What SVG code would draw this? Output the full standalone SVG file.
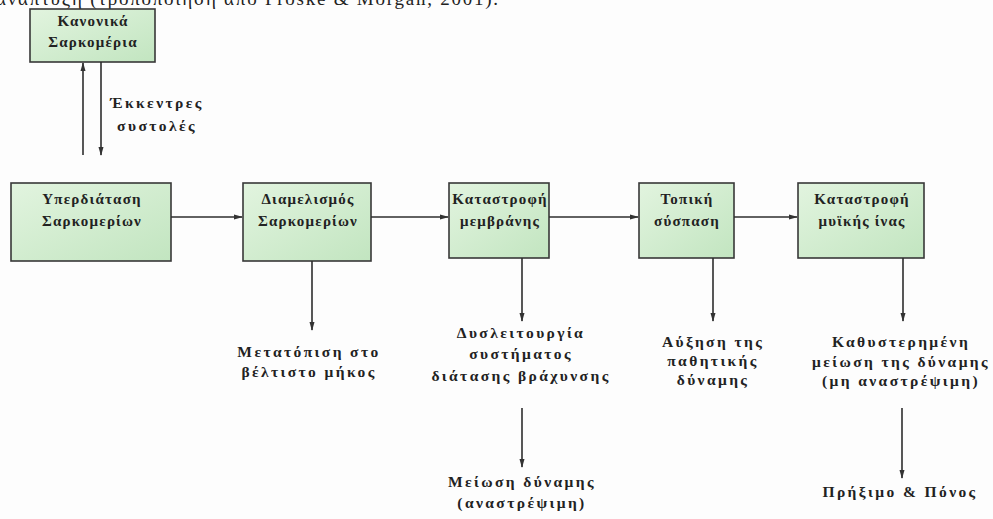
<svg xmlns="http://www.w3.org/2000/svg" width="993" height="519" viewBox="0 0 993 519">
<defs>
<linearGradient id="g" x1="0" y1="0" x2="1" y2="1">
<stop offset="0" stop-color="#e2f4df"/>
<stop offset="1" stop-color="#c2e5c0"/>
</linearGradient>
<marker id="ah" markerWidth="9" markerHeight="6" refX="8" refY="3" orient="auto" markerUnits="userSpaceOnUse">
<path d="M0,0.5 L9,3 L0,5.5 Z" fill="#333"/>
</marker>
<style>
.box{fill:url(#g);stroke:#383838;stroke-width:1.6}
.t{font-family:"Liberation Serif","Times New Roman",serif;font-weight:bold;font-size:15px;fill:#222;text-anchor:middle;letter-spacing:1.2px}
.o{font-size:15.5px;letter-spacing:2.4px}
.top{font-family:"Liberation Serif","Times New Roman",serif;font-size:19px;fill:#222}
.c{stroke:#2e2e2e;stroke-width:1.6;fill:none;marker-end:url(#ah)}
</style>
</defs>
<rect width="993" height="519" fill="#fdfdfd"/>
<text class="top" x="-4" y="5" textLength="502" lengthAdjust="spacing">ανάπτυξη (τροποποίηση από Proske &amp; Morgan, 2001).</text>

<g id="n-kanonika">
<rect class="box" x="30" y="9" width="125" height="53"/>
<text class="t" x="93" y="26">Κανονικά</text>
<text class="t" x="93" y="47">Σαρκομέρια</text>
</g>
<g id="n-yperdiatasi">
<rect class="box" x="11" y="183" width="160" height="78"/>
<text class="t" x="92" y="204">Υπερδιάταση</text>
<text class="t" x="92" y="226">Σαρκομερίων</text>
</g>
<g id="n-diamelismos">
<rect class="box" x="243" y="183" width="128" height="78"/>
<text class="t" x="308" y="204">Διαμελισμός</text>
<text class="t" x="308" y="226">Σαρκομερίων</text>
</g>
<g id="n-membrani">
<rect class="box" x="449" y="183" width="100" height="75"/>
<text class="t" x="500" y="204">Καταστροφή</text>
<text class="t" x="500" y="226">μεμβράνης</text>
</g>
<g id="n-topiki">
<rect class="box" x="639" y="183" width="95" height="75"/>
<text class="t" x="687" y="204">Τοπική</text>
<text class="t" x="687" y="226">σύσπαση</text>
</g>
<g id="n-myiki">
<rect class="box" x="798" y="183" width="126" height="75"/>
<text class="t" x="862" y="204">Καταστροφή</text>
<text class="t" x="862" y="226">μυϊκής ίνας</text>
</g>

<g id="n-ekkentres">
<text class="t o" x="157" y="108">Έκκεντρες</text>
<text class="t o" x="157" y="131">συστολές</text>
</g>
<g id="n-metatopisi">
<text class="t o" x="309" y="357">Μετατόπιση στο</text>
<text class="t o" x="309" y="377">βέλτιστο μήκος</text>
</g>
<g id="n-dyslitourgia">
<text class="t o" x="521" y="338">Δυσλειτουργία</text>
<text class="t o" x="521" y="359">συστήματος</text>
<text class="t o" x="521" y="381">διάτασης βράχυνσης</text>
</g>
<g id="n-meiosi">
<text class="t o" x="522" y="487">Μείωση δύναμης</text>
<text class="t o" x="522" y="508">(αναστρέψιμη)</text>
</g>
<g id="n-afxisi">
<text class="t o" x="713" y="347">Αύξηση της</text>
<text class="t o" x="713" y="366">παθητικής</text>
<text class="t o" x="713" y="385">δύναμης</text>
</g>
<g id="n-kathysterimeni">
<text class="t o" x="901" y="347">Καθυστερημένη</text>
<text class="t o" x="901" y="367">μείωση της δύναμης</text>
<text class="t o" x="901" y="386">(μη αναστρέψιμη)</text>
</g>
<g id="n-prixmo">
<text class="t o" x="900" y="497">Πρήξιμο &amp; Πόνος</text>
</g>

<g id="connectors">
<line class="c" x1="83" y1="155" x2="83" y2="63"/>
<line class="c" x1="101" y1="62" x2="101" y2="155"/>
<line class="c" x1="171" y1="217" x2="242" y2="217"/>
<line class="c" x1="371" y1="217" x2="448" y2="217"/>
<line class="c" x1="549" y1="217" x2="638" y2="217"/>
<line class="c" x1="734" y1="217" x2="797" y2="217"/>
<line class="c" x1="312" y1="261" x2="312" y2="330"/>
<line class="c" x1="522" y1="258" x2="522" y2="321"/>
<line class="c" x1="522" y1="408" x2="522" y2="467"/>
<line class="c" x1="713" y1="258" x2="713" y2="321"/>
<line class="c" x1="903" y1="258" x2="903" y2="321"/>
<line class="c" x1="902" y1="408" x2="902" y2="478"/>
</g>
</svg>
